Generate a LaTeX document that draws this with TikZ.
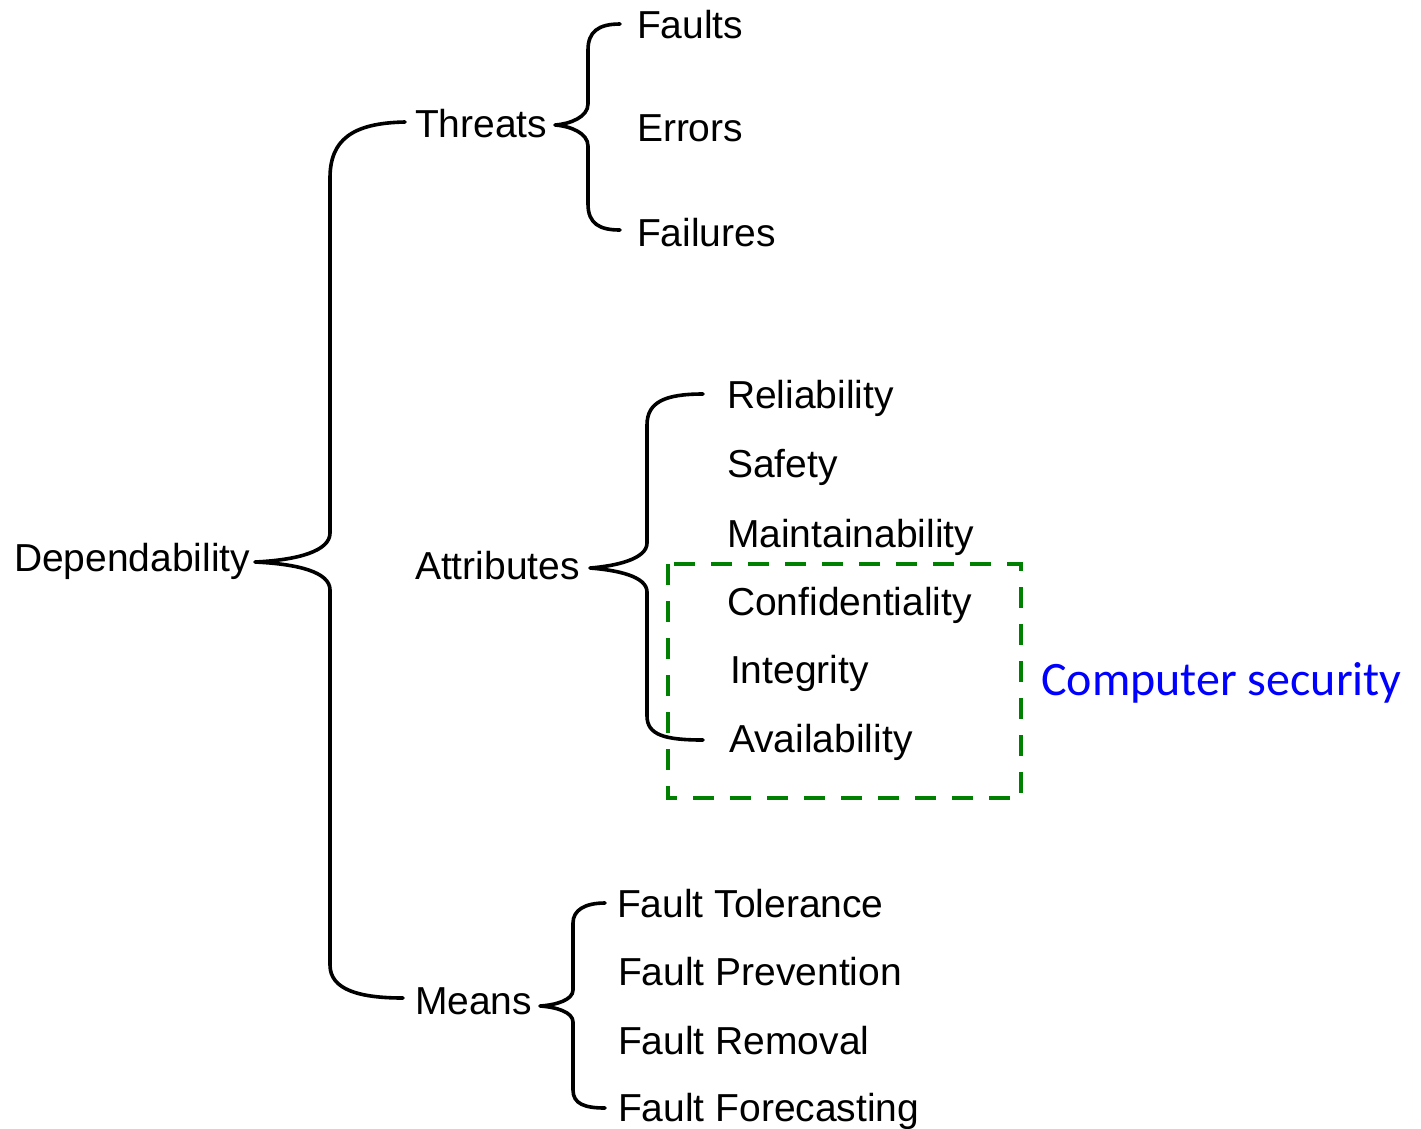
\documentclass[tikz,border=0pt]{standalone}
\usepackage{fontspec}
\setmainfont{Liberation Sans}
\newfontfamily\calibfont{Carlito}
\definecolor{boxgreen}{RGB}{0,128,0}
\definecolor{secblue}{RGB}{0,0,255}
\begin{document}
\begin{tikzpicture}[x=1pt,y=-1pt,
  lbl/.style={anchor=base west,inner sep=0pt,outer sep=0pt,font=\fontsize{39}{47}\selectfont},
  bracepath/.style={line width=3.6pt,line cap=round,line join=round},
  secbox/.style={draw=boxgreen,line width=4.5pt,dash pattern=on 21pt off 16pt},
  seclbl/.style={anchor=base west,inner sep=0pt,text=secblue,font=\calibfont\fontsize{48}{58}\selectfont}]
\useasboundingbox (0,0) rectangle (1421,1128);
% labels
\node[lbl] (dep) at (14,571) {Dependability};
\node[lbl] (thr) at (415,137) {Threats};
\node[lbl] (att) at (415,579) {Attributes};
\node[lbl] (mea) at (415,1014) {Means};
\node[lbl] (fau) at (637,38) {Faults};
\node[lbl] (err) at (637,141) {Errors};
\node[lbl] (fai) at (637,246) {Failures};
\node[lbl] (rel) at (727,408) {Reliability};
\node[lbl] (saf) at (727,477) {Safety};
\node[lbl] (mai) at (727,547) {Maintainability};
\node[lbl] (con) at (727,615) {Confidentiality};
\node[lbl] (int) at (730,683) {Integrity};
\node[lbl] (ava) at (729,752) {Availability};
\node[lbl] (ftol) at (617,917) {Fault Tolerance};
\node[lbl] (fpre) at (618,985) {Fault Prevention};
\node[lbl] (frem) at (618,1054) {Fault Removal};
\node[lbl] (ffor) at (618,1121) {Fault Forecasting};
\node[seclbl] (sec) at (1041,695) {Computer security};
% brace anchor points
\coordinate (depTip) at (255,562);
\coordinate (depTop) at (405,122);
\coordinate (depBot) at (403,998);
\coordinate (thrTip) at (555,125);
\coordinate (thrTop) at (620,24);
\coordinate (thrBot) at (620,230);
\coordinate (attTip) at (590,568);
\coordinate (attTop) at (703,394);
\coordinate (attBot) at (703,740);
\coordinate (meaTip) at (540,1006);
\coordinate (meaTop) at (605,903);
\coordinate (meaBot) at (605,1108);
% braces
\draw[bracepath] (depTop) .. controls (352,123) and (330,140) .. (330,178)
  -- (330,533) .. controls (330,551) and (298,560) .. (depTip)
  .. controls (298,564) and (330,572) .. (330,590)
  -- (330,965) .. controls (330,990) and (360,998) .. (depBot);
\draw[bracepath] (thrTop) .. controls (598,24) and (588,32) .. (588,50)
  -- (588,104) .. controls (588,117) and (570,124) .. (thrTip)
  .. controls (570,126) and (588,133) .. (588,146)
  -- (588,204) .. controls (588,224) and (600,230) .. (thrBot);
\draw[bracepath] (attTop) .. controls (665,394) and (647,402) .. (647,425)
  -- (647,543) .. controls (647,559) and (616,566) .. (attTip)
  .. controls (616,570) and (647,576) .. (647,592)
  -- (647,716) .. controls (647,735) and (665,740) .. (attBot);
\draw[bracepath] (meaTop) .. controls (585,903) and (573,910) .. (573,923)
  -- (573,990) .. controls (573,1000) and (556,1005) .. (meaTip)
  .. controls (556,1007) and (573,1012) .. (573,1022)
  -- (573,1090) .. controls (573,1104) and (585,1108) .. (meaBot);
% security box
\draw[secbox] (668,564) rectangle (1021,798);
\end{tikzpicture}
\end{document}
